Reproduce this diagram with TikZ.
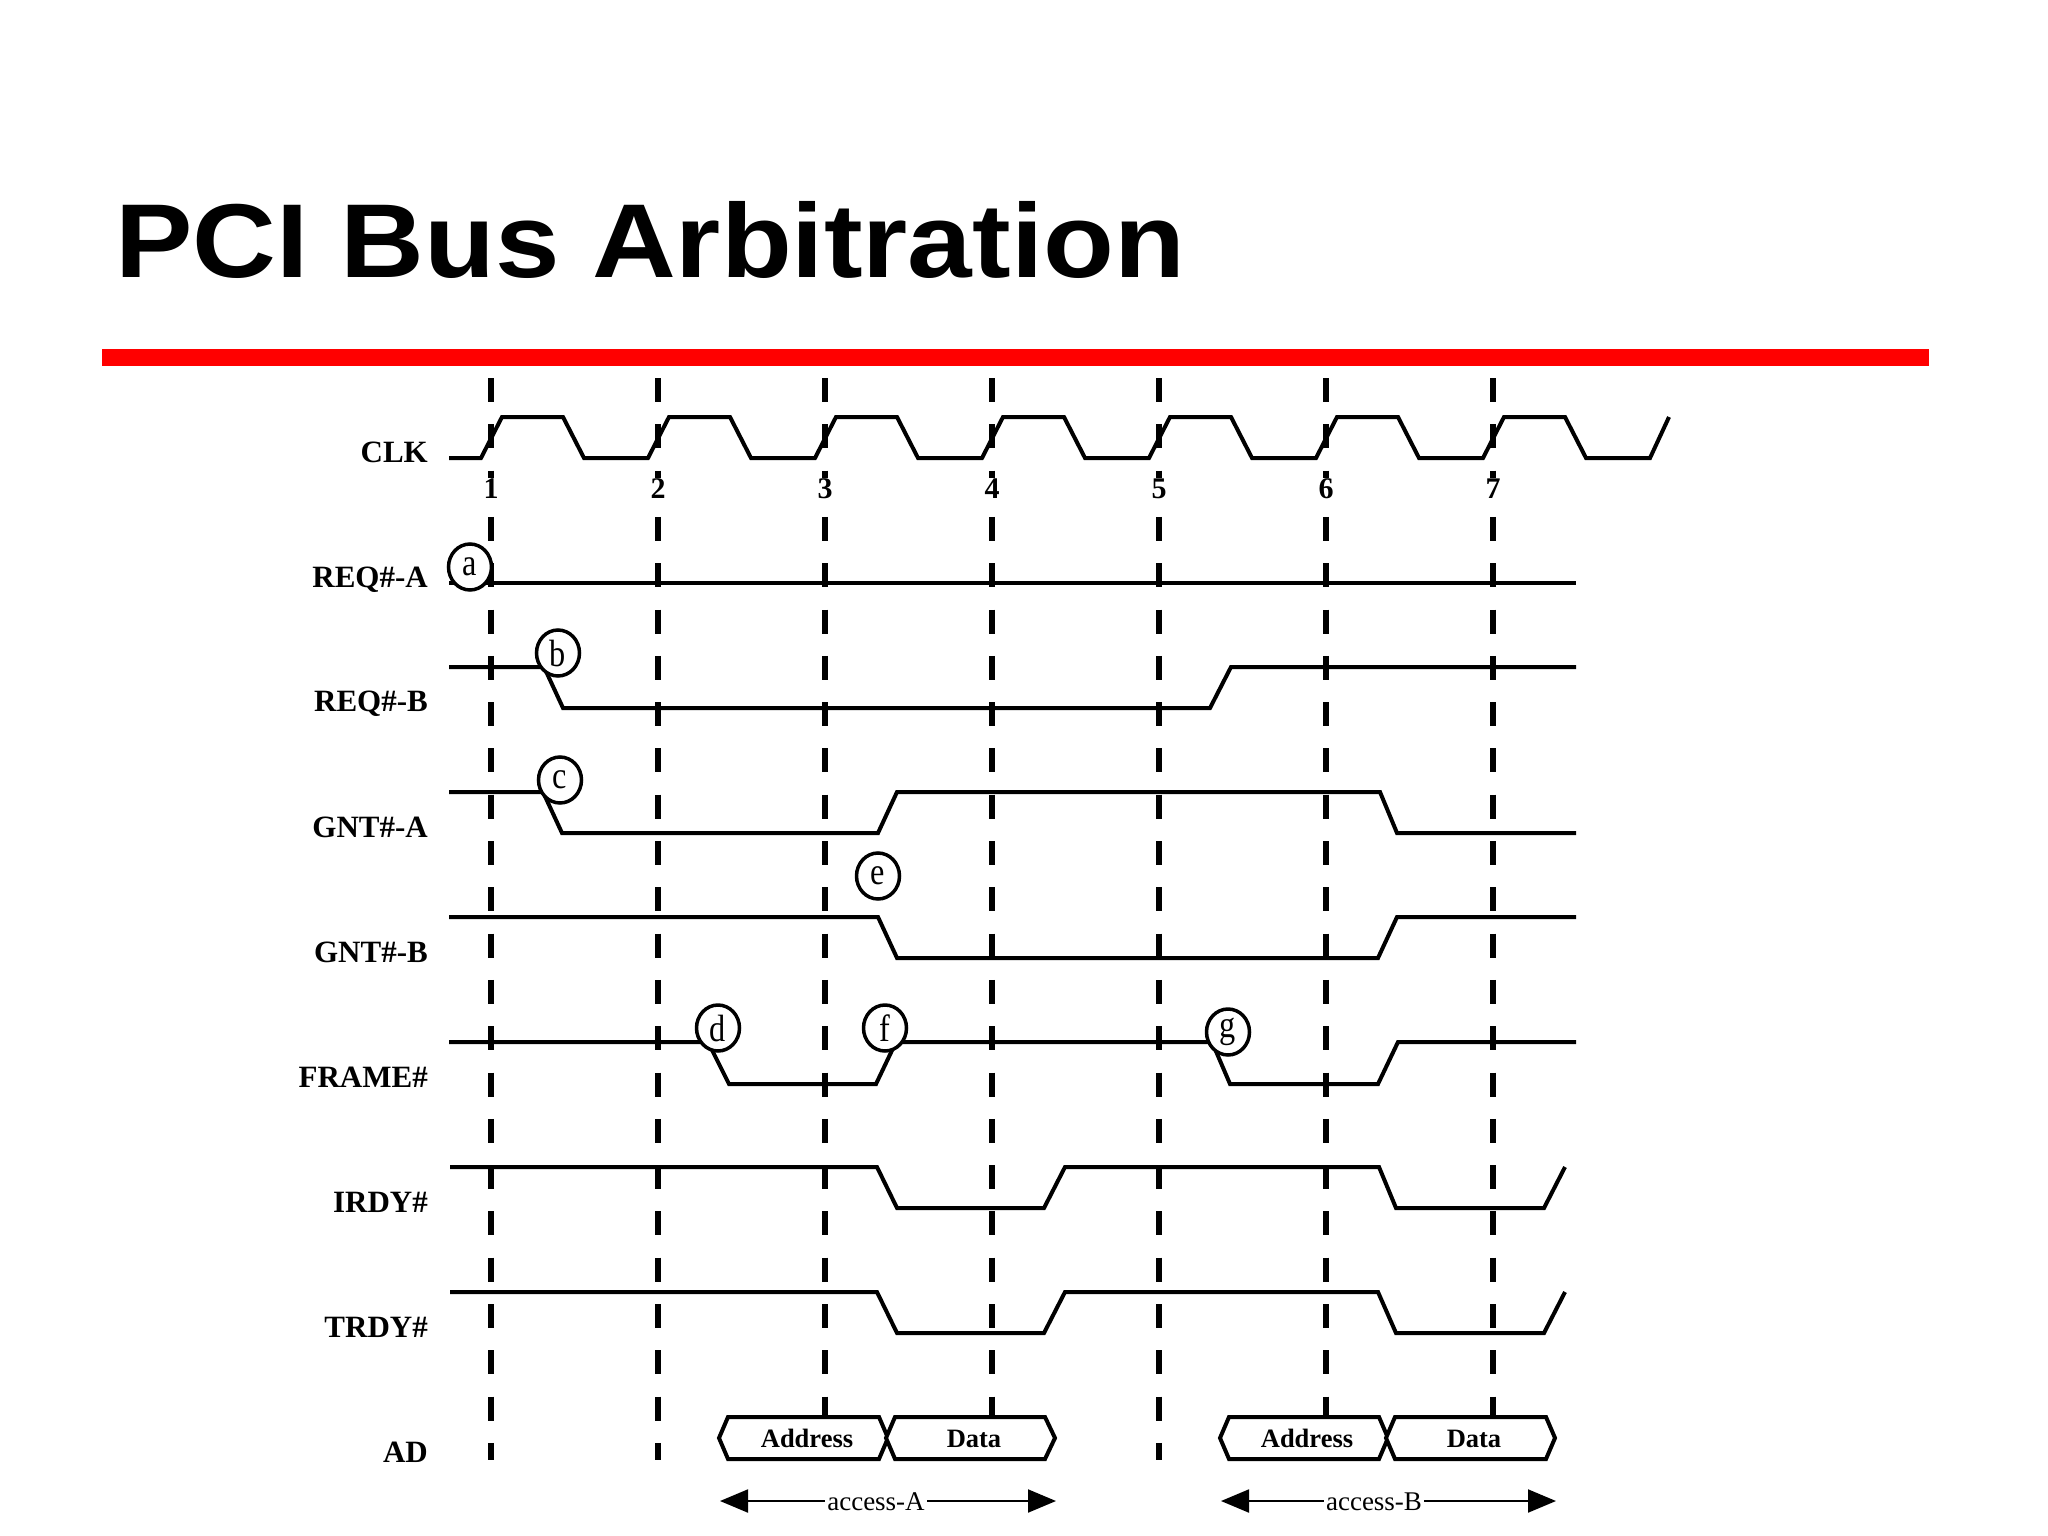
\documentclass[tikz,border=0pt]{standalone}
\usepackage{fontspec}
\setmainfont{Liberation Serif}
\newfontfamily\titlefont{Liberation Sans}
\usetikzlibrary{arrows.meta,shapes.geometric}
\begin{document}
\begin{tikzpicture}[x=1pt,y=-1pt,
  sig/.style={line width=4pt, line join=miter},
  clkdash/.style={line width=6.5pt, dash pattern=on 24pt off 22.3pt},
  lbl/.style={anchor=base east, inner sep=0pt, font=\fontsize{31}{31}\selectfont\bfseries},
  num/.style={anchor=base, inner sep=0.5pt, fill=white, font=\fontsize{30}{30}\selectfont\bfseries},
  evt/.style={ellipse, draw, line width=3.5pt, fill=white, minimum width=43pt, minimum height=46pt, inner sep=0pt},
  busbox/.style={line width=4pt, line join=miter, fill=white},
  bustext/.style={anchor=base, inner sep=0pt, font=\fontsize{26.5}{26.5}\selectfont\bfseries},
  spanarrow/.style={line width=2pt, {Triangle[length=28pt,width=23pt]}-{Triangle[length=28pt,width=23pt]}},
  spantext/.style={anchor=base, inner sep=2pt, fill=white, font=\fontsize{27}{27}\selectfont}]
\newcommand{\evtletter}[1]{\scalebox{0.85}[1]{\fontsize{38}{38}\selectfont #1}}
\useasboundingbox (0,0) rectangle (2048,1536);

% title and red rule
\node[anchor=base west, inner sep=0pt] (title) at (115,277)
  {\scalebox{1.105}[1]{\titlefont\bfseries\fontsize{105}{105}\selectfont PCI Bus Arbitration}};
\fill[red] (102,349) rectangle (1929,366);

% clock reference lines
\foreach \x in {491,658,1159} \draw[clkdash] (\x,378) -- (\x,1460);
\foreach \x in {825,992,1326,1493} \draw[clkdash] (\x,378) -- (\x,1416);

% signal labels
\node[lbl] (lclk)   at (428,462) {CLK};
\node[lbl] (lreqa)  at (428,587) {REQ\#-A};
\node[lbl] (lreqb)  at (428,711) {REQ\#-B};
\node[lbl] (lgnta)  at (428,837) {GNT\#-A};
\node[lbl] (lgntb)  at (428,962) {GNT\#-B};
\node[lbl] (lframe) at (428,1087) {FRAME\#};
\node[lbl] (lirdy)  at (428,1212) {IRDY\#};
\node[lbl] (ltrdy)  at (428,1337) {TRDY\#};
\node[lbl] (lad)    at (428,1462) {AD};

% CLK
\draw[sig] (449,458) -- (481,458) -- (502,417) -- (563,417) -- (584,458)
  -- (648,458) -- (669,417) -- (730,417) -- (751,458)
  -- (815,458) -- (836,417) -- (897,417) -- (918,458)
  -- (982,458) -- (1003,417) -- (1064,417) -- (1085,458)
  -- (1149,458) -- (1170,417) -- (1231,417) -- (1252,458)
  -- (1316,458) -- (1337,417) -- (1398,417) -- (1419,458)
  -- (1483,458) -- (1504,417) -- (1565,417) -- (1586,458)
  -- (1650,458) -- (1669,417);

% REQ#-A
\draw[sig] (449,583) -- (1576,583);
% REQ#-B
\draw[sig] (449,667) -- (544,667) -- (563,708) -- (1210,708) -- (1231,667) -- (1576,667);
% GNT#-A
\draw[sig] (449,792) -- (543,792) -- (562,833) -- (878,833) -- (897,792) -- (1380,792) -- (1397,833) -- (1576,833);
% GNT#-B
\draw[sig] (449,917) -- (878,917) -- (897,958) -- (1378,958) -- (1397,917) -- (1576,917);
% FRAME#
\draw[sig] (449,1042) -- (708,1042) -- (729,1084) -- (876,1084) -- (896,1042) -- (1212,1042) -- (1230,1084) -- (1378,1084) -- (1398,1042) -- (1576,1042);
% IRDY#
\draw[sig] (450,1167) -- (877,1167) -- (897,1208) -- (1044,1208) -- (1065,1167) -- (1379,1167) -- (1396,1208) -- (1544,1208) -- (1565,1167);
% TRDY#
\draw[sig] (450,1292) -- (877,1292) -- (897,1333) -- (1044,1333) -- (1065,1292) -- (1378,1292) -- (1396,1333) -- (1544,1333) -- (1565,1292);

% AD bus phases
\draw[busbox] (719,1438) -- (728,1417) -- (879,1417) -- (888,1438) -- (879,1459) -- (728,1459) -- cycle;
\draw[busbox] (886,1438) -- (895,1417) -- (1045,1417) -- (1055,1438) -- (1045,1459) -- (895,1459) -- cycle;
\draw[busbox] (1220,1438) -- (1229,1417) -- (1379,1417) -- (1388,1438) -- (1379,1459) -- (1229,1459) -- cycle;
\draw[busbox] (1386,1438) -- (1395,1417) -- (1546,1417) -- (1555,1438) -- (1546,1459) -- (1395,1459) -- cycle;
\node[bustext] (addra) at (807,1447) {Address};
\node[bustext] (dataa) at (974,1447) {Data};
\node[bustext] (addrb) at (1307,1447) {Address};
\node[bustext] (datab) at (1474,1447) {Data};

% access spans
\coordinate (aal) at (720,1501);
\coordinate (aar) at (1056,1501);
\coordinate (abl) at (1221,1501);
\coordinate (abr) at (1556,1501);
\draw[spanarrow] (aal) -- (aar);
\draw[spanarrow] (abl) -- (abr);
\node[spantext] (acca) at (876,1510) {access-A};
\node[spantext] (accb) at (1374,1510) {access-B};

% event markers
\node[evt] (ea) at (470,567) {\evtletter{a}};
\node[evt] (eb) at (558,653) {\evtletter{b}};
\node[evt] (ec) at (560,780) {\evtletter{c}};
\node[evt] (ee) at (878,876) {\evtletter{e}};
\node[evt] (ed) at (718,1028) {\evtletter{d}};
\node[evt] (ef) at (885,1028) {\evtletter{f}};
\node[evt] (eg) at (1228,1032) {\evtletter{g}};

% clock numbers
\node[num] (n1) at (491,498) {1};
\node[num] (n2) at (658,498) {2};
\node[num] (n3) at (825,498) {3};
\node[num] (n4) at (992,498) {4};
\node[num] (n5) at (1159,498) {5};
\node[num] (n6) at (1326,498) {6};
\node[num] (n7) at (1493,498) {7};
\end{tikzpicture}
\end{document}
